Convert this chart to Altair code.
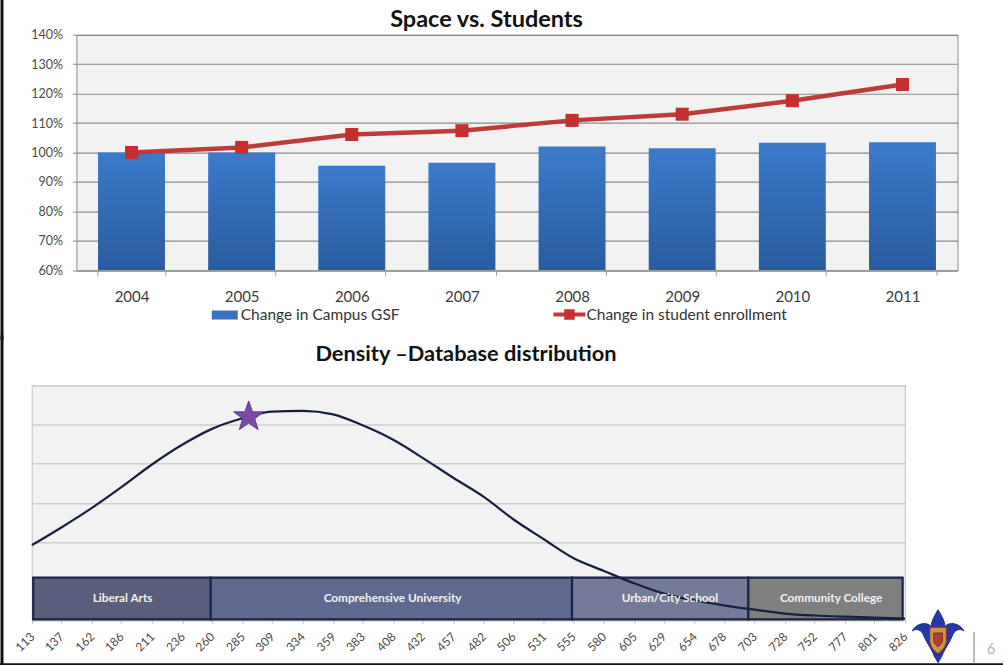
import altair as alt
import pandas as pd

# Upper panel: space against enrolment
years = ["2004", "2005", "2006", "2007", "2008", "2009", "2010", "2011"]
campus_gsf = [1.00, 1.00, 0.955, 0.965, 1.02, 1.014, 1.033, 1.035]
enrollment = [1.00, 1.017, 1.061, 1.074, 1.109, 1.13, 1.176, 1.231]
pct_ticks = [0.6, 0.7, 0.8, 0.9, 1.0, 1.1, 1.2, 1.3, 1.4]

# Lower panel: density curve and institution bands
score_ticks = [113, 137, 162, 186, 211, 236, 260, 285, 309, 334, 359, 383, 408, 432, 457,
               482, 506, 531, 555, 580, 605, 629, 654, 678, 703, 728, 752, 777, 801, 826]
density = [1.92, 2.37, 2.87, 3.40, 3.98, 4.49, 4.89, 5.16, 5.33, 5.35, 5.26, 4.98, 4.61, 4.15, 3.64,
           3.15, 2.58, 2.07, 1.59, 1.26, 0.94, 0.68, 0.51, 0.38, 0.27, 0.17, 0.12, 0.09, 0.07, 0.04]
grid_steps = [0, 1, 2, 3, 4, 5, 6]
band_names = ["Liberal Arts", "Comprehensive University", "Urban/City School", "Community College"]
band_start = [114, 259, 554, 698]
band_end = [259, 554, 698, 824]
band_label_at = [187, 407.5, 634, 765.6]
band_colors = ["#5a5d7c", "#5f688f", "#767a99", "#7f7f7f"]
band_low = 0.02
band_high = 1.09
star_score = [290]
star_density = [5.2]

FONT = "Lato"
LEFT_A, TOP_A = 76.5, 35
LEFT_B, TOP_B = 32, 385
GUTTER_GAP = -4.5

one_row = pd.DataFrame({"k": [0]})


def page_rule(x, y, y2, color="#111111", width=2.0):
    return alt.Chart(one_row).mark_rule(color=color, strokeWidth=width).encode(
        x=alt.value(x), y=alt.value(y), y2=alt.value(y2))


def page_text(text, x, y, size, color="#333333", weight="normal", align="left"):
    return alt.Chart(one_row).mark_text(
        text=text, font=FONT, fontSize=size, color=color, fontWeight=weight,
        align=align, baseline="middle").encode(x=alt.value(x), y=alt.value(y))


# ---- upper panel ----
frame_a = pd.DataFrame({"year": years, "gsf": campus_gsf, "enroll": enrollment})
x_a = alt.X("year:N", title=None, sort=years, scale=alt.Scale(paddingInner=0.39, paddingOuter=0.195),
            axis=alt.Axis(labelAngle=0, labelFont=FONT, labelFontSize=15, labelColor="#3a3a3a",
                          labelPadding=14, tickBand="extent", tickSize=5, tickColor="#999999",
                          domainColor="#999999"))
y_a = alt.Y("gsf:Q", title=None, scale=alt.Scale(domain=[0.6, 1.4], nice=False, zero=False),
            axis=alt.Axis(values=pct_ticks, tickCount=len(pct_ticks), format=".0%", labelFont=FONT,
                          labelFontSize=12.5, labelColor="#4a4a4a", labelPadding=10, tickSize=4,
                          tickColor="#8a8a8a", domain=False, grid=True, gridColor="#8a8a8a",
                          gridWidth=1.2))

bar_fill = alt.Gradient(gradient="linear", x1=1, x2=1, y1=0, y2=1,
                        stops=[alt.GradientStop(offset=0, color="#3b7acb"),
                               alt.GradientStop(offset=1, color="#2a5c9e")])
bars = alt.Chart(frame_a).mark_bar(color=bar_fill, size=67).encode(
    x=x_a, y=y_a, y2=alt.datum(0.6))
red_line = alt.Chart(frame_a).mark_line(color="#bf3b3a", strokeWidth=4.5).encode(
    x=alt.X("year:N", sort=years), y=alt.Y("enroll:Q"))
red_pts = alt.Chart(frame_a).mark_point(shape="square", filled=True, size=170, opacity=1,
                                        color="#c5302e").encode(
    x=alt.X("year:N", sort=years), y=alt.Y("enroll:Q"))

legend_a = [
    alt.Chart(one_row).mark_rect(color="#3872be").encode(
        x=alt.value(212 - LEFT_A), x2=alt.value(238 - LEFT_A),
        y=alt.value(311 - TOP_A), y2=alt.value(320 - TOP_A)),
    page_text("Change in Campus GSF", 241 - LEFT_A, 315 - TOP_A, 15.5),
    alt.Chart(one_row).mark_rule(color="#bf3b3a", strokeWidth=4).encode(
        x=alt.value(554 - LEFT_A), x2=alt.value(586 - LEFT_A), y=alt.value(315 - TOP_A)),
    alt.Chart(one_row).mark_point(shape="square", filled=True, size=110, opacity=1,
                                  color="#c5302e").encode(
        x=alt.value(570 - LEFT_A), y=alt.value(315 - TOP_A)),
    page_text("Change in student enrollment", 587 - LEFT_A, 315 - TOP_A, 15.5),
]

main_a = alt.layer(
    bars, red_line, red_pts, *legend_a,
    page_rule(858 - LEFT_A, -TOP_A + 0.5, -TOP_A + 1, color="#eeeeee", width=1),
    page_text("Space vs. Students", 487 - LEFT_A, 20 - TOP_A, 23.5, color="#111111",
              weight="bold", align="center"),
).properties(width=882, height=235.5,
             view=alt.ViewBackground(fill="#f2f2f2", stroke="#8a8a8a", strokeWidth=1))

# Narrow gutter holding the slide's left edge; it sets the upper plot's indent
gutter = alt.layer(
    page_rule(-LEFT_B + 2, -TOP_A, 340 - TOP_A, width=3),
).properties(width=1, height=1, view=alt.ViewBackground(stroke="transparent"))

panel_a = alt.hconcat(gutter, main_a, spacing=GUTTER_GAP, bounds="full")

# ---- lower panel ----
frame_b = pd.DataFrame({"score": score_ticks, "density": density})
frame_bands = pd.DataFrame({"name": band_names, "start": band_start, "end": band_end,
                            "fill": band_colors, "low": band_low, "high": band_high,
                            "mid": band_label_at})
frame_bands["ymid"] = (band_low + band_high) / 2
frame_star = pd.DataFrame({"score": star_score, "density": star_density})

axis_x_b = alt.Axis(values=score_ticks, tickCount=len(score_ticks), format="d", labelAngle=315,
                    labelAlign="right", labelBaseline="middle", labelFont=FONT,
                    labelFontSize=12, labelColor="#4a4a4a", labelPadding=11, labelOverlap=False,
                    labelFlush=False, labelBound=False, tickSize=3, tickColor="#bbbbbb",
                    domainColor="#cccccc", grid=False)
axis_y_b = alt.Axis(values=grid_steps, tickCount=len(grid_steps), labels=False, ticks=False,
                    domain=False, grid=True, gridColor="#cfcfcf", gridWidth=1.5)
scale_x_b = alt.Scale(domain=[113, 826], nice=False, zero=False)
scale_y_b = alt.Scale(domain=[0, 6], nice=False)

band_rects = alt.Chart(frame_bands).mark_rect(stroke="#1c2545", strokeWidth=2.2).encode(
    x=alt.X("start:Q", title=None, scale=scale_x_b, axis=axis_x_b),
    x2="end:Q",
    y=alt.Y("low:Q", title=None, scale=scale_y_b, axis=axis_y_b), y2="high:Q",
    fill=alt.Fill("fill:N", scale=None))
band_labels = alt.Chart(frame_bands).mark_text(
    font=FONT, fontSize=11.8, fontWeight="bold", color="#f2f2f2").encode(
    x=alt.X("mid:Q"), y=alt.Y("ymid:Q"), text="name:N")
curve = alt.Chart(frame_b).mark_line(color="#14213f", strokeWidth=2.2, interpolate="monotone").encode(
    x=alt.X("score:Q"), y=alt.Y("density:Q"))

STAR = ("M0,-1 L0.24,-0.31 L0.95,-0.31 L0.38,0.12 L0.59,0.81 L0,0.4 "
        "L-0.59,0.81 L-0.38,0.12 L-0.95,-0.31 L-0.24,-0.31 Z")
star = alt.Chart(frame_star).mark_point(shape=STAR, filled=True, size=1000, opacity=1,
                                        color="#7a4aa8", stroke="#5b3a86",
                                        strokeWidth=1).encode(
    x=alt.X("score:Q"), y=alt.Y("density:Q"))

# Crest in the corner of the slide
FLEUR = ("M0,-1 C0.12,-0.78 0.26,-0.58 0.26,-0.36 C0.42,-0.56 0.8,-0.5 0.98,-0.2 "
         "C0.8,-0.32 0.62,-0.22 0.55,-0.04 C0.46,0.2 0.3,0.4 0.2,0.62 C0.14,0.78 0.06,0.9 0,1 "
         "C-0.06,0.9 -0.14,0.78 -0.2,0.62 C-0.3,0.4 -0.46,0.2 -0.55,-0.04 "
         "C-0.62,-0.22 -0.8,-0.32 -0.98,-0.2 C-0.8,-0.5 -0.42,-0.56 -0.26,-0.36 "
         "C-0.26,-0.58 -0.12,-0.78 0,-1 Z")
SHIELD = "M-0.5,-0.6 L0.5,-0.6 L0.5,0.2 C0.5,0.6 0.2,0.85 0,1 C-0.2,0.85 -0.5,0.6 -0.5,0.2 Z"
CX, CY = 939 - LEFT_B, 636 - TOP_B


def crest_part(path, size, fill, stroke, y=CY):
    return alt.Chart(one_row).mark_point(shape=path, filled=True, size=size, opacity=1, color=fill,
                                         stroke=stroke, strokeWidth=1).encode(
        x=alt.value(CX), y=alt.value(y))


crest = [
    crest_part(FLEUR, 2800, "#2538a8", "#1a2a85"),
    crest_part(SHIELD, 1100, "#c8983f", "#8c2a2f", y=CY + 1),
    crest_part(SHIELD, 300, "#b43c33", "#7a2a2a", y=CY + 2),
]

panel_b = alt.layer(
    band_rects, curve, band_labels, star, *crest,
    page_rule(-LEFT_B + 2, 335 - TOP_B, 664 - TOP_B, width=3),
    alt.Chart(one_row).mark_rule(color="#111111", strokeWidth=2).encode(
        x=alt.value(-LEFT_B), x2=alt.value(1004 - LEFT_B), y=alt.value(664 - TOP_B)),
    page_rule(975 - LEFT_B, 632 - TOP_B, 663 - TOP_B, color="#a8a8a8", width=1.5),
    page_text("6", 992 - LEFT_B, 649 - TOP_B, 15, color="#b5b5b5", align="center"),
    page_text("Density \u2013Database distribution", 466.5 - LEFT_B, 354 - TOP_B, 21.8,
              color="#111111", weight="bold", align="center"),
).properties(width=874, height=235,
             view=alt.ViewBackground(fill="#f2f2f2", stroke="#cccccc", strokeWidth=1.2))

chart = alt.vconcat(panel_a, panel_b, spacing=-9, bounds="full").properties(
    padding={"left": -2, "top": -2.5, "right": 0, "bottom": 0}, background="white"
).resolve_scale(x="independent", y="independent")

chart.save("out.html", embed_options={"renderer": "svg", "actions": False})
